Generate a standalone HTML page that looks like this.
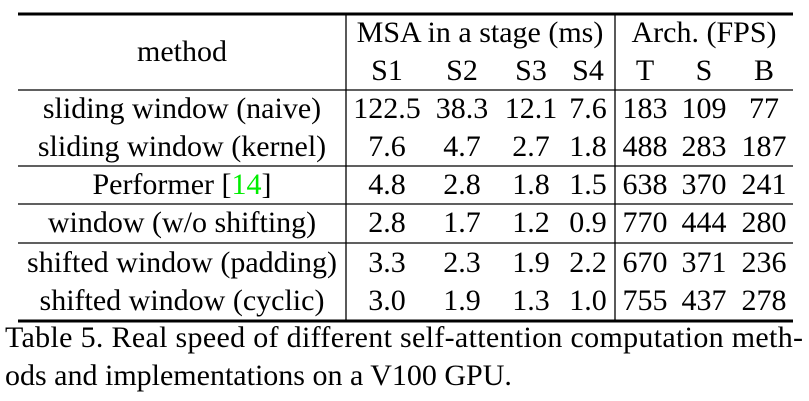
<!DOCTYPE html>
<html><head><meta charset="utf-8"><style>
html,body{margin:0;padding:0;background:#fff;}
svg{display:block;}
text{font-family:"Liberation Serif",serif;font-size:30px;fill:#000;}
</style></head><body>
<svg width="809" height="401" viewBox="0 0 809 401">
<line x1="18" y1="14" x2="793" y2="14" stroke="#000" stroke-width="3"/>
<line x1="18" y1="90" x2="793" y2="90" stroke="#000" stroke-width="1.3"/>
<line x1="18" y1="166" x2="793" y2="166" stroke="#000" stroke-width="1.3"/>
<line x1="18" y1="204" x2="793" y2="204" stroke="#000" stroke-width="1.3"/>
<line x1="18" y1="243" x2="793" y2="243" stroke="#000" stroke-width="1.3"/>
<line x1="18" y1="321" x2="793" y2="321" stroke="#000" stroke-width="3"/>
<line x1="346" y1="14" x2="346" y2="321" stroke="#000" stroke-width="1.3"/>
<line x1="615" y1="14" x2="615" y2="321" stroke="#000" stroke-width="1.3"/>
<g text-anchor="middle">
<text x="182" y="61">method</text>
<text x="480" y="42">MSA in a stage (ms)</text>
<text x="704" y="42">Arch. (FPS)</text>
<g>
<text x="387" y="80">S1</text><text x="462" y="80">S2</text><text x="531" y="80">S3</text><text x="588" y="80">S4</text>
<text x="645" y="80">T</text><text x="704" y="80">S</text><text x="764" y="80">B</text>
</g>
<g>
<text x="182" y="118">sliding window (naive)</text>
<text x="387" y="118">122.5</text><text x="462" y="118">38.3</text><text x="531" y="118">12.1</text><text x="588" y="118">7.6</text>
<text x="645" y="118">183</text><text x="704" y="118">109</text><text x="764" y="118">77</text>
</g>
<g>
<text x="182" y="156">sliding window (kernel)</text>
<text x="387" y="156">7.6</text><text x="462" y="156">4.7</text><text x="531" y="156">2.7</text><text x="588" y="156">1.8</text>
<text x="645" y="156">488</text><text x="704" y="156">283</text><text x="764" y="156">187</text>
</g>
<g>
<text x="182" y="194">Performer [<tspan style="fill:#00ee00">14</tspan>]</text>
<text x="387" y="194">4.8</text><text x="462" y="194">2.8</text><text x="531" y="194">1.8</text><text x="588" y="194">1.5</text>
<text x="645" y="194">638</text><text x="704" y="194">370</text><text x="764" y="194">241</text>
</g>
<g>
<text x="182" y="232">window (w/o shifting)</text>
<text x="387" y="232">2.8</text><text x="462" y="232">1.7</text><text x="531" y="232">1.2</text><text x="588" y="232">0.9</text>
<text x="645" y="232">770</text><text x="704" y="232">444</text><text x="764" y="232">280</text>
</g>
<g>
<text x="182" y="272">shifted window (padding)</text>
<text x="387" y="272">3.3</text><text x="462" y="272">2.3</text><text x="531" y="272">1.9</text><text x="588" y="272">2.2</text>
<text x="645" y="272">670</text><text x="704" y="272">371</text><text x="764" y="272">236</text>
</g>
<g>
<text x="182" y="310">shifted window (cyclic)</text>
<text x="387" y="310">3.0</text><text x="462" y="310">1.9</text><text x="531" y="310">1.3</text><text x="588" y="310">1.0</text>
<text x="645" y="310">755</text><text x="704" y="310">437</text><text x="764" y="310">278</text>
</g>
</g>
<text x="5" y="347" textLength="798" lengthAdjust="spacing">Table 5. Real speed of different self-attention computation meth-</text>
<text x="5" y="385">ods and implementations on a V100 GPU.</text>
</svg>
</body></html>
